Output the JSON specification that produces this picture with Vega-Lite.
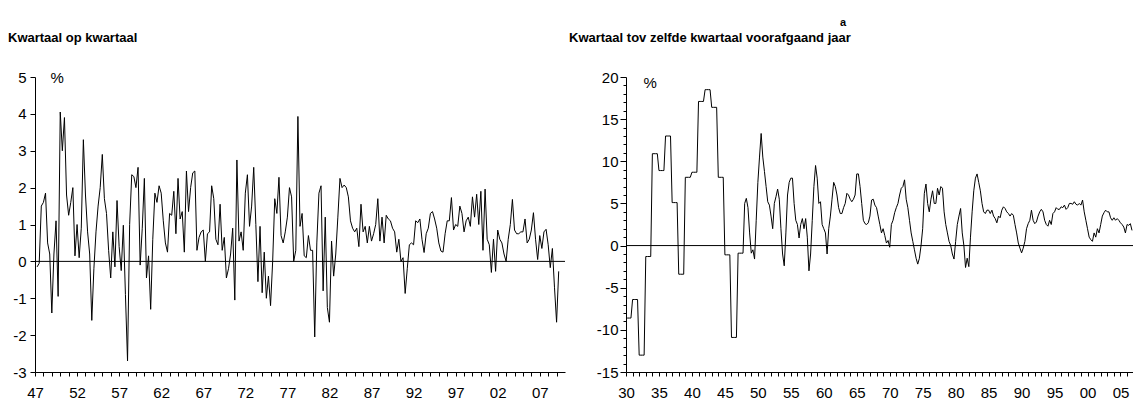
{
  "$schema": "https://vega.github.io/schema/vega-lite/v6.json",
  "background": "white",
  "padding": {"left": 8, "top": 17, "right": 0, "bottom": 0},
  "spacing": 3,
  "title": {"text": "a", "frame": "group", "anchor": "start", "dx": 805, "fontSize": 11, "offset": 4},
  "config": {
    "view": {"stroke": null},
    "font": "Liberation Sans",
    "axis": {"grid": false, "domainColor": "#000", "tickColor": "#000", "labelColor": "#000", "labelFont": "Liberation Sans", "labelFontSize": 15, "titleFont": "Liberation Sans", "titleFontSize": 15, "titleFontWeight": "normal", "titleColor": "#000", "domainWidth": 1, "tickWidth": 1, "labelOverlap": false, "labelBound": false},
    "title": {"font": "Liberation Sans", "fontSize": 13, "fontWeight": "bold", "color": "#000", "anchor": "start"}
  },
  "datasets": {
    "qq": [
{"t":1947.25,"v":-0.15},{"t":1947.5,"v":-0.05},{"t":1947.75,"v":1.5},{"t":1948,"v":1.6},
{"t":1948.25,"v":1.85},{"t":1948.5,"v":0.5},{"t":1948.75,"v":0.2},{"t":1949,"v":-1.4},
{"t":1949.25,"v":0.2},{"t":1949.5,"v":1.1},{"t":1949.75,"v":-0.95},{"t":1950,"v":4.05},
{"t":1950.25,"v":3.0},{"t":1950.5,"v":3.9},{"t":1950.75,"v":1.8},{"t":1951,"v":1.25},
{"t":1951.25,"v":1.6},{"t":1951.5,"v":2.0},{"t":1951.75,"v":0.15},{"t":1952,"v":1.0},
{"t":1952.25,"v":0.1},{"t":1952.5,"v":0.9},{"t":1952.75,"v":3.3},{"t":1953,"v":1.8},
{"t":1953.25,"v":0.8},{"t":1953.5,"v":0.2},{"t":1953.75,"v":-1.6},{"t":1954,"v":-0.2},
{"t":1954.25,"v":0.8},{"t":1954.5,"v":1.5},{"t":1954.75,"v":2.0},{"t":1955,"v":2.9},
{"t":1955.25,"v":1.7},{"t":1955.5,"v":1.3},{"t":1955.75,"v":0.3},{"t":1956,"v":-0.45},
{"t":1956.25,"v":0.8},{"t":1956.5,"v":-0.15},{"t":1956.75,"v":1.65},{"t":1957,"v":0.4},
{"t":1957.25,"v":-0.25},{"t":1957.5,"v":0.98},{"t":1957.75,"v":-0.9},{"t":1958,"v":-2.7},
{"t":1958.25,"v":1.0},{"t":1958.5,"v":2.35},{"t":1958.75,"v":2.3},{"t":1959,"v":2.0},
{"t":1959.25,"v":2.55},{"t":1959.5,"v":-0.1},{"t":1959.75,"v":0.9},{"t":1960,"v":2.25},
{"t":1960.25,"v":-0.45},{"t":1960.5,"v":0.15},{"t":1960.75,"v":-1.3},{"t":1961,"v":0.6},
{"t":1961.25,"v":1.85},{"t":1961.5,"v":1.6},{"t":1961.75,"v":2.05},{"t":1962,"v":1.85},
{"t":1962.25,"v":1.1},{"t":1962.5,"v":0.5},{"t":1962.75,"v":0.25},{"t":1963,"v":1.3},
{"t":1963.25,"v":1.25},{"t":1963.5,"v":1.9},{"t":1963.75,"v":0.75},{"t":1964,"v":2.25},
{"t":1964.25,"v":1.15},{"t":1964.5,"v":1.35},{"t":1964.75,"v":0.25},{"t":1965,"v":2.45},
{"t":1965.25,"v":1.35},{"t":1965.5,"v":2.0},{"t":1965.75,"v":2.4},{"t":1966,"v":2.45},
{"t":1966.25,"v":0.3},{"t":1966.5,"v":0.65},{"t":1966.75,"v":0.8},{"t":1967,"v":0.85},
{"t":1967.25,"v":0.0},{"t":1967.5,"v":0.75},{"t":1967.75,"v":0.8},{"t":1968,"v":2.05},
{"t":1968.25,"v":1.7},{"t":1968.5,"v":0.6},{"t":1968.75,"v":0.45},{"t":1969,"v":1.55},
{"t":1969.25,"v":0.3},{"t":1969.5,"v":0.65},{"t":1969.75,"v":-0.45},{"t":1970,"v":-0.2},
{"t":1970.25,"v":0.2},{"t":1970.5,"v":0.9},{"t":1970.75,"v":-1.05},{"t":1971,"v":2.75},
{"t":1971.25,"v":0.55},{"t":1971.5,"v":0.8},{"t":1971.75,"v":0.3},{"t":1972,"v":1.85},
{"t":1972.25,"v":2.35},{"t":1972.5,"v":0.95},{"t":1972.75,"v":1.5},{"t":1973,"v":2.55},
{"t":1973.25,"v":1.0},{"t":1973.5,"v":-0.55},{"t":1973.75,"v":0.95},{"t":1974,"v":-0.85},
{"t":1974.25,"v":0.25},{"t":1974.5,"v":-1.0},{"t":1974.75,"v":-0.4},{"t":1975,"v":-1.2},
{"t":1975.25,"v":0.0},{"t":1975.5,"v":1.7},{"t":1975.75,"v":1.3},{"t":1976,"v":2.28},
{"t":1976.25,"v":0.7},{"t":1976.5,"v":0.5},{"t":1976.75,"v":0.8},{"t":1977,"v":1.2},
{"t":1977.25,"v":2.0},{"t":1977.5,"v":1.75},{"t":1977.75,"v":0.0},{"t":1978,"v":0.3},
{"t":1978.25,"v":3.93},{"t":1978.5,"v":0.95},{"t":1978.75,"v":1.3},{"t":1979,"v":0.15},
{"t":1979.25,"v":0.1},{"t":1979.5,"v":0.7},{"t":1979.75,"v":0.3},{"t":1980,"v":0.3},
{"t":1980.25,"v":-2.05},{"t":1980.5,"v":0.5},{"t":1980.75,"v":1.85},{"t":1981,"v":2.05},
{"t":1981.25,"v":-0.8},{"t":1981.5,"v":1.2},{"t":1981.75,"v":-1.25},{"t":1982,"v":-1.65},
{"t":1982.25,"v":0.55},{"t":1982.5,"v":-0.4},{"t":1982.75,"v":0.2},{"t":1983,"v":1.2},
{"t":1983.25,"v":2.25},{"t":1983.5,"v":2.0},{"t":1983.75,"v":2.07},{"t":1984,"v":2.0},
{"t":1984.25,"v":1.75},{"t":1984.5,"v":1.1},{"t":1984.75,"v":0.9},{"t":1985,"v":0.8},
{"t":1985.25,"v":0.9},{"t":1985.5,"v":0.4},{"t":1985.75,"v":1.55},{"t":1986,"v":0.8},
{"t":1986.25,"v":0.95},{"t":1986.5,"v":0.5},{"t":1986.75,"v":0.95},{"t":1987,"v":0.55},
{"t":1987.25,"v":0.75},{"t":1987.5,"v":1.0},{"t":1987.75,"v":1.7},{"t":1988,"v":0.55},
{"t":1988.25,"v":1.2},{"t":1988.5,"v":0.5},{"t":1988.75,"v":1.25},{"t":1989,"v":1.15},
{"t":1989.25,"v":1.1},{"t":1989.5,"v":0.9},{"t":1989.75,"v":0.8},{"t":1990,"v":0.25},
{"t":1990.25,"v":0.6},{"t":1990.5,"v":0.0},{"t":1990.75,"v":0.1},{"t":1991,"v":-0.87},
{"t":1991.25,"v":-0.2},{"t":1991.5,"v":0.45},{"t":1991.75,"v":0.5},{"t":1992,"v":0.45},
{"t":1992.25,"v":1.1},{"t":1992.5,"v":1.05},{"t":1992.75,"v":1.15},{"t":1993,"v":0.6},
{"t":1993.25,"v":0.24},{"t":1993.5,"v":0.75},{"t":1993.75,"v":0.9},{"t":1994,"v":1.3},
{"t":1994.25,"v":1.35},{"t":1994.5,"v":1.15},{"t":1994.75,"v":0.9},{"t":1995,"v":0.5},
{"t":1995.25,"v":0.28},{"t":1995.5,"v":0.25},{"t":1995.75,"v":0.75},{"t":1996,"v":1.1},
{"t":1996.25,"v":1.1},{"t":1996.5,"v":1.73},{"t":1996.75,"v":0.85},{"t":1997,"v":1.0},
{"t":1997.25,"v":0.95},{"t":1997.5,"v":1.5},{"t":1997.75,"v":1.3},{"t":1998,"v":0.8},
{"t":1998.25,"v":1.1},{"t":1998.5,"v":1.2},{"t":1998.75,"v":0.95},{"t":1999,"v":1.75},
{"t":1999.25,"v":1.2},{"t":1999.5,"v":1.82},{"t":1999.75,"v":1.0},{"t":2000,"v":1.9},
{"t":2000.25,"v":0.3},{"t":2000.5,"v":1.96},{"t":2000.75,"v":0.6},{"t":2001,"v":0.45},
{"t":2001.25,"v":-0.3},{"t":2001.5,"v":0.6},{"t":2001.75,"v":-0.27},{"t":2002,"v":0.85},
{"t":2002.25,"v":0.6},{"t":2002.5,"v":0.5},{"t":2002.75,"v":0.2},{"t":2003,"v":0.0},
{"t":2003.25,"v":0.6},{"t":2003.5,"v":1.0},{"t":2003.75,"v":1.68},{"t":2004,"v":0.85},
{"t":2004.25,"v":0.75},{"t":2004.5,"v":0.75},{"t":2004.75,"v":0.8},{"t":2005,"v":0.8},
{"t":2005.25,"v":1.15},{"t":2005.5,"v":0.5},{"t":2005.75,"v":0.6},{"t":2006,"v":0.85},
{"t":2006.25,"v":1.32},{"t":2006.5,"v":0.6},{"t":2006.75,"v":0.05},{"t":2007,"v":0.7},
{"t":2007.25,"v":0.35},{"t":2007.5,"v":0.8},{"t":2007.75,"v":0.87},{"t":2008,"v":0.45},
{"t":2008.25,"v":-0.17},{"t":2008.5,"v":0.35},{"t":2008.75,"v":-0.7},{"t":2009,"v":-1.65},
{"t":2009.25,"v":-0.27}
    ],
    "yy": [
{"t":1930,"v":-8.6},{"t":1930.25,"v":-8.6},{"t":1930.5,"v":-8.6},{"t":1930.75,"v":-8.6},
{"t":1931,"v":-6.4},{"t":1931.25,"v":-6.4},{"t":1931.5,"v":-6.4},{"t":1931.75,"v":-6.4},
{"t":1932,"v":-13.0},{"t":1932.25,"v":-13.0},{"t":1932.5,"v":-13.0},{"t":1932.75,"v":-13.0},
{"t":1933,"v":-1.3},{"t":1933.25,"v":-1.3},{"t":1933.5,"v":-1.3},{"t":1933.75,"v":-1.3},
{"t":1934,"v":10.9},{"t":1934.25,"v":10.9},{"t":1934.5,"v":10.9},{"t":1934.75,"v":10.9},
{"t":1935,"v":8.9},{"t":1935.25,"v":8.9},{"t":1935.5,"v":8.9},{"t":1935.75,"v":8.9},
{"t":1936,"v":13.0},{"t":1936.25,"v":13.0},{"t":1936.5,"v":13.0},{"t":1936.75,"v":13.0},
{"t":1937,"v":5.1},{"t":1937.25,"v":5.1},{"t":1937.5,"v":5.1},{"t":1937.75,"v":5.1},
{"t":1938,"v":-3.4},{"t":1938.25,"v":-3.4},{"t":1938.5,"v":-3.4},{"t":1938.75,"v":-3.4},
{"t":1939,"v":8.1},{"t":1939.25,"v":8.1},{"t":1939.5,"v":8.1},{"t":1939.75,"v":8.1},
{"t":1940,"v":8.7},{"t":1940.25,"v":8.7},{"t":1940.5,"v":8.7},{"t":1940.75,"v":8.7},
{"t":1941,"v":17.1},{"t":1941.25,"v":17.1},{"t":1941.5,"v":17.1},{"t":1941.75,"v":17.1},
{"t":1942,"v":18.5},{"t":1942.25,"v":18.5},{"t":1942.5,"v":18.5},{"t":1942.75,"v":18.5},
{"t":1943,"v":16.4},{"t":1943.25,"v":16.4},{"t":1943.5,"v":16.4},{"t":1943.75,"v":16.4},
{"t":1944,"v":8.1},{"t":1944.25,"v":8.1},{"t":1944.5,"v":8.1},{"t":1944.75,"v":8.1},
{"t":1945,"v":-1.1},{"t":1945.25,"v":-1.1},{"t":1945.5,"v":-1.1},{"t":1945.75,"v":-1.1},
{"t":1946,"v":-10.9},{"t":1946.25,"v":-10.9},{"t":1946.5,"v":-10.9},{"t":1946.75,"v":-10.9},
{"t":1947,"v":-0.9},{"t":1947.25,"v":-0.9},{"t":1947.5,"v":-0.9},{"t":1947.75,"v":-0.9},
{"t":1948,"v":5.0},{"t":1948.25,"v":5.6},{"t":1948.5,"v":4.5},{"t":1948.75,"v":1.5},
{"t":1949,"v":-0.9},{"t":1949.25,"v":-0.5},{"t":1949.5,"v":-1.6},{"t":1949.75,"v":3.0},
{"t":1950,"v":7.5},{"t":1950.25,"v":10.5},{"t":1950.5,"v":13.3},{"t":1950.75,"v":10.5},
{"t":1951,"v":8.8},{"t":1951.25,"v":7.0},{"t":1951.5,"v":5.2},{"t":1951.75,"v":4.8},
{"t":1952,"v":3.5},{"t":1952.25,"v":2.0},{"t":1952.5,"v":5.0},{"t":1952.75,"v":5.8},
{"t":1953,"v":6.7},{"t":1953.25,"v":5.5},{"t":1953.5,"v":2.0},{"t":1953.75,"v":-1.0},
{"t":1954,"v":-2.4},{"t":1954.25,"v":1.5},{"t":1954.5,"v":6.0},{"t":1954.75,"v":7.5},
{"t":1955,"v":8.0},{"t":1955.25,"v":8.0},{"t":1955.5,"v":5.0},{"t":1955.75,"v":3.0},
{"t":1956,"v":2.5},{"t":1956.25,"v":0.9},{"t":1956.5,"v":2.5},{"t":1956.75,"v":3.2},
{"t":1957,"v":2.0},{"t":1957.25,"v":3.2},{"t":1957.5,"v":1.0},{"t":1957.75,"v":-3.0},
{"t":1958,"v":-1.0},{"t":1958.25,"v":3.0},{"t":1958.5,"v":7.0},{"t":1958.75,"v":9.5},
{"t":1959,"v":8.0},{"t":1959.25,"v":5.0},{"t":1959.5,"v":5.2},{"t":1959.75,"v":2.5},
{"t":1960,"v":2.0},{"t":1960.25,"v":1.5},{"t":1960.5,"v":-1.0},{"t":1960.75,"v":2.0},
{"t":1961,"v":3.5},{"t":1961.25,"v":5.5},{"t":1961.5,"v":7.5},{"t":1961.75,"v":7.0},
{"t":1962,"v":6.0},{"t":1962.25,"v":4.5},{"t":1962.5,"v":3.8},{"t":1962.75,"v":3.8},
{"t":1963,"v":4.5},{"t":1963.25,"v":5.0},{"t":1963.5,"v":6.2},{"t":1963.75,"v":6.0},
{"t":1964,"v":5.5},{"t":1964.25,"v":5.2},{"t":1964.5,"v":5.5},{"t":1964.75,"v":6.0},
{"t":1965,"v":8.5},{"t":1965.25,"v":8.5},{"t":1965.5,"v":7.0},{"t":1965.75,"v":5.0},
{"t":1966,"v":3.0},{"t":1966.25,"v":2.6},{"t":1966.5,"v":2.5},{"t":1966.75,"v":2.7},
{"t":1967,"v":3.5},{"t":1967.25,"v":5.4},{"t":1967.5,"v":5.5},{"t":1967.75,"v":4.8},
{"t":1968,"v":4.5},{"t":1968.25,"v":3.5},{"t":1968.5,"v":2.5},{"t":1968.75,"v":1.5},
{"t":1969,"v":2.0},{"t":1969.25,"v":1.2},{"t":1969.5,"v":0.3},{"t":1969.75,"v":0.6},
{"t":1970,"v":-0.2},{"t":1970.25,"v":2.5},{"t":1970.5,"v":3.0},{"t":1970.75,"v":3.9},
{"t":1971,"v":4.5},{"t":1971.25,"v":5.0},{"t":1971.5,"v":6.0},{"t":1971.75,"v":6.8},
{"t":1972,"v":7.0},{"t":1972.25,"v":7.8},{"t":1972.5,"v":5.5},{"t":1972.75,"v":4.5},
{"t":1973,"v":3.0},{"t":1973.25,"v":1.5},{"t":1973.5,"v":0.5},{"t":1973.75,"v":-0.5},
{"t":1974,"v":-1.5},{"t":1974.25,"v":-2.2},{"t":1974.5,"v":-1.5},{"t":1974.75,"v":0.0},
{"t":1975,"v":2.0},{"t":1975.25,"v":6.2},{"t":1975.5,"v":7.3},{"t":1975.75,"v":5.0},
{"t":1976,"v":4.0},{"t":1976.25,"v":5.5},{"t":1976.5,"v":6.5},{"t":1976.75,"v":5.0},
{"t":1977,"v":5.0},{"t":1977.25,"v":6.8},{"t":1977.5,"v":6.0},{"t":1977.75,"v":7.0},
{"t":1978,"v":6.8},{"t":1978.25,"v":4.0},{"t":1978.5,"v":2.5},{"t":1978.75,"v":1.5},
{"t":1979,"v":0.5},{"t":1979.25,"v":0.0},{"t":1979.5,"v":-1.0},{"t":1979.75,"v":-1.6},
{"t":1980,"v":0.5},{"t":1980.25,"v":2.5},{"t":1980.5,"v":3.5},{"t":1980.75,"v":4.4},
{"t":1981,"v":1.5},{"t":1981.25,"v":0.0},{"t":1981.5,"v":-2.6},{"t":1981.75,"v":-1.5},
{"t":1982,"v":-2.5},{"t":1982.25,"v":1.0},{"t":1982.5,"v":4.0},{"t":1982.75,"v":6.5},
{"t":1983,"v":8.0},{"t":1983.25,"v":8.5},{"t":1983.5,"v":7.5},{"t":1983.75,"v":6.5},
{"t":1984,"v":5.0},{"t":1984.25,"v":4.0},{"t":1984.5,"v":3.8},{"t":1984.75,"v":4.2},
{"t":1985,"v":4.2},{"t":1985.25,"v":3.8},{"t":1985.5,"v":4.2},{"t":1985.75,"v":3.5},
{"t":1986,"v":3.2},{"t":1986.25,"v":2.7},{"t":1986.5,"v":3.5},{"t":1986.75,"v":3.3},
{"t":1987,"v":4.2},{"t":1987.25,"v":4.6},{"t":1987.5,"v":4.4},{"t":1987.75,"v":4.0},
{"t":1988,"v":3.8},{"t":1988.25,"v":3.5},{"t":1988.5,"v":3.8},{"t":1988.75,"v":3.6},
{"t":1989,"v":2.5},{"t":1989.25,"v":1.5},{"t":1989.5,"v":0.3},{"t":1989.75,"v":-0.3},
{"t":1990,"v":-0.87},{"t":1990.25,"v":-0.3},{"t":1990.5,"v":0.5},{"t":1990.75,"v":2.0},
{"t":1991,"v":2.6},{"t":1991.25,"v":3.0},{"t":1991.5,"v":4.2},{"t":1991.75,"v":3.0},
{"t":1992,"v":2.6},{"t":1992.25,"v":2.8},{"t":1992.5,"v":3.5},{"t":1992.75,"v":4.0},
{"t":1993,"v":4.3},{"t":1993.25,"v":4.0},{"t":1993.5,"v":3.0},{"t":1993.75,"v":2.5},
{"t":1994,"v":2.3},{"t":1994.25,"v":3.0},{"t":1994.5,"v":2.5},{"t":1994.75,"v":3.8},
{"t":1995,"v":4.0},{"t":1995.25,"v":4.5},{"t":1995.5,"v":4.3},{"t":1995.75,"v":4.3},
{"t":1996,"v":4.6},{"t":1996.25,"v":4.5},{"t":1996.5,"v":4.8},{"t":1996.75,"v":4.3},
{"t":1997,"v":4.5},{"t":1997.25,"v":5.0},{"t":1997.5,"v":5.0},{"t":1997.75,"v":4.9},
{"t":1998,"v":5.2},{"t":1998.25,"v":4.9},{"t":1998.5,"v":4.8},{"t":1998.75,"v":5.0},
{"t":1999,"v":4.8},{"t":1999.25,"v":5.4},{"t":1999.5,"v":4.0},{"t":1999.75,"v":3.0},
{"t":2000,"v":2.0},{"t":2000.25,"v":1.0},{"t":2000.5,"v":0.7},{"t":2000.75,"v":0.5},
{"t":2001,"v":1.5},{"t":2001.25,"v":1.0},{"t":2001.5,"v":2.0},{"t":2001.75,"v":1.5},
{"t":2002,"v":2.5},{"t":2002.25,"v":3.5},{"t":2002.5,"v":3.9},{"t":2002.75,"v":4.2},
{"t":2003,"v":4.0},{"t":2003.25,"v":4.0},{"t":2003.5,"v":3.3},{"t":2003.75,"v":3.0},
{"t":2004,"v":3.3},{"t":2004.25,"v":3.0},{"t":2004.5,"v":3.2},{"t":2004.75,"v":3.0},
{"t":2005,"v":2.7},{"t":2005.25,"v":2.5},{"t":2005.5,"v":2.2},{"t":2005.75,"v":1.5},
{"t":2006,"v":2.5},{"t":2006.25,"v":2.4},{"t":2006.5,"v":2.6},{"t":2006.75,"v":1.8}
    ]
  },
  "hconcat": [
    {
      "width": 530,
      "height": 295,
      "title": {"text": "Kwartaal op kwartaal", "frame": "group", "dx": -27, "offset": 25},
      "encoding": {
        "y": {"field": "v", "type": "quantitative", "scale": {"domain": [-3, 5], "nice": false},
          "axis": {"title": "%", "titleAngle": 0, "titleAlign": "left", "titleBaseline": "middle", "titleX": 15, "titleY": 0, "values": [-3,-2,-1,0,1,2,3,4,5], "labelExpr": "toString(datum.value)", "tickSize": 5, "labelPadding": 4, "labelOverlap": false}}
      },
      "layer": [
        {
          "data": {"name": "qq"},
          "mark": {"type": "line", "color": "#000", "strokeWidth": 1},
          "encoding": {
            "x": {"field": "t", "type": "quantitative", "scale": {"domain": [1947, 2010], "nice": false, "zero": false},
              "axis": {"title": null, "values": [1947,1948,1949,1950,1951,1952,1953,1954,1955,1956,1957,1958,1959,1960,1961,1962,1963,1964,1965,1966,1967,1968,1969,1970,1971,1972,1973,1974,1975,1976,1977,1978,1979,1980,1981,1982,1983,1984,1985,1986,1987,1988,1989,1990,1991,1992,1993,1994,1995,1996,1997,1998,1999,2000,2001,2002,2003,2004,2005,2006,2007,2008,2009],
                "labelExpr": "(datum.value - 1947) % 5 === 0 ? slice(toString(datum.value), 2) : ''", "tickSize": 4, "labelPadding": 9, "labelFlush": false, "labelOverlap": false}}
          }
        },
        {
          "data": {"values": [{"v": 0}]},
          "mark": {"type": "rule", "color": "#000", "strokeWidth": 1},
          "encoding": {}
        }
      ]
    },
    {
      "width": 507,
      "height": 295,
      "title": {"text": "Kwartaal tov zelfde kwartaal voorafgaand jaar", "frame": "group", "dx": -57, "offset": 25},
      "encoding": {
        "y": {"field": "v", "type": "quantitative", "scale": {"domain": [-15, 20], "nice": false},
          "axis": {"title": "%", "titleAngle": 0, "titleAlign": "left", "titleBaseline": "middle", "titleX": 17, "titleY": 5, "values": [-15,-14,-13,-12,-11,-10,-9,-8,-7,-6,-5,-4,-3,-2,-1,0,1,2,3,4,5,6,7,8,9,10,11,12,13,14,15,16,17,18,19,20],
            "labelExpr": "datum.value % 5 === 0 ? toString(datum.value) : ''", "tickSize": {"condition": {"test": "datum.value % 5 === 0", "value": 6}, "value": 3}, "labelPadding": 2, "labelOverlap": false}}
      },
      "layer": [
        {
          "data": {"name": "yy"},
          "mark": {"type": "line", "color": "#000", "strokeWidth": 1},
          "encoding": {
            "x": {"field": "t", "type": "quantitative", "scale": {"domain": [1930, 2006.9], "nice": false, "zero": false},
              "axis": {"title": null, "values": [1930,1931,1932,1933,1934,1935,1936,1937,1938,1939,1940,1941,1942,1943,1944,1945,1946,1947,1948,1949,1950,1951,1952,1953,1954,1955,1956,1957,1958,1959,1960,1961,1962,1963,1964,1965,1966,1967,1968,1969,1970,1971,1972,1973,1974,1975,1976,1977,1978,1979,1980,1981,1982,1983,1984,1985,1986,1987,1988,1989,1990,1991,1992,1993,1994,1995,1996,1997,1998,1999,2000,2001,2002,2003,2004,2005,2006],
                "labelExpr": "(datum.value - 1930) % 5 === 0 ? slice(toString(datum.value), 2) : ''", "tickSize": 4, "labelPadding": 9, "labelFlush": false, "labelOverlap": false}}
          }
        },
        {
          "data": {"values": [{"v": 0}]},
          "mark": {"type": "rule", "color": "#000", "strokeWidth": 1},
          "encoding": {}
        }
      ]
    }
  ]
}
